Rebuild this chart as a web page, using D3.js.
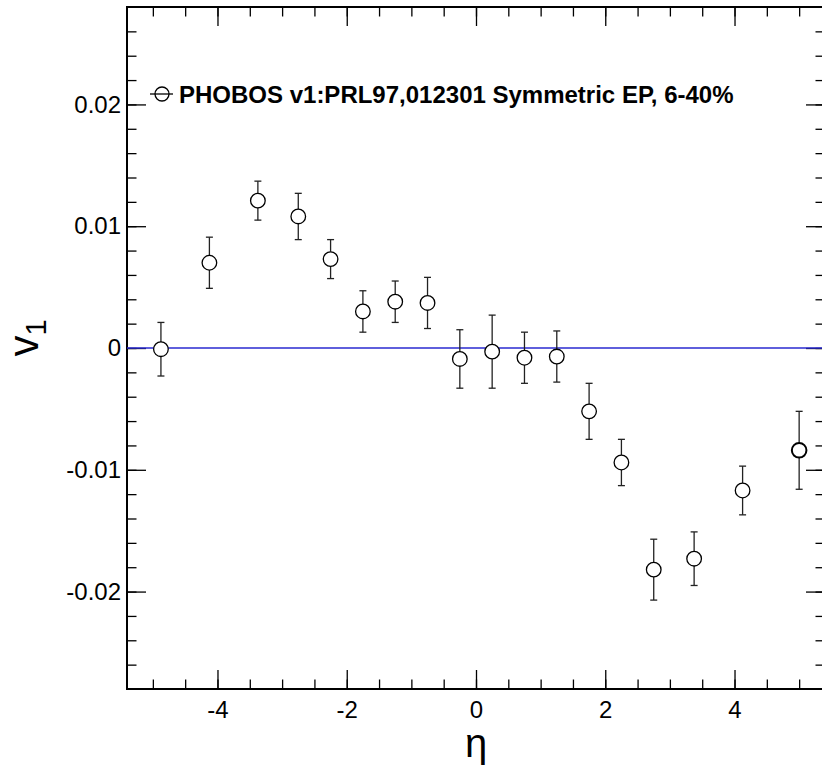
<!DOCTYPE html>
<html>
<head>
<meta charset="utf-8">
<script src="https://cdn.jsdelivr.net/npm/d3@7"></script>
<style>
  body { margin: 0; background: #fff; }
  svg { display: block; font-family: "Liberation Sans", Arial, Helvetica, sans-serif; }
</style>
</head>
<body>
<svg id="chart" width="822" height="772"></svg>
<script>
// PHOBOS v1 vs eta
const eta = [-4.875, -4.125, -3.375, -2.75, -2.25, -1.75, -1.25, -0.75, -0.25,
             0.25, 0.75, 1.25, 1.75, 2.25, 2.75, 3.375, 4.125, 5.0];
const v1 = [-0.0001, 0.0070, 0.0121, 0.0108, 0.0073, 0.0030, 0.0038, 0.0037, -0.0009,
            -0.0003, -0.0008, -0.0007, -0.0052, -0.0094, -0.0182, -0.0173, -0.0117, -0.0084];
const v1Err = [0.0022, 0.0021, 0.0016, 0.0019, 0.0016, 0.0017, 0.0017, 0.0021, 0.0024,
               0.0030, 0.0021, 0.0021, 0.0023, 0.0019, 0.0025, 0.0022, 0.0020, 0.0032];

const xMajor = [-4, -2, 0, 2, 4];
const xTickLabels = ["-4", "-2", "0", "2", "4"];
const xMinor = d3.range(-5, 5.01, 0.5);
const yMajor = [-0.02, -0.01, 0, 0.01, 0.02];
const yTickLabels = ["-0.02", "-0.01", "0", "0.01", "0.02"];
const yMinor = d3.range(-0.026, 0.0261, 0.002);
const legendText = "PHOBOS v1:PRL97,012301 Symmetric EP, 6-40%";

const data = eta.map((e, i) => ({ x: e, y: v1[i], err: v1Err[i] }));

const svg = d3.select("#chart");

// plot frame in pixels
const frameL = 127, frameR = 825, frameT = 7, frameB = 689;

const x = d3.scaleLinear().domain([-5.4, 5.4]).range([frameL, frameR]);
const y = d3.scaleLinear().domain([-0.028, 0.028]).range([frameB, frameT]);

const majorLen = 19, minorLen = 9.5;

// ---- axes ----
function styleAxis(sel) {
    sel.select(".domain").remove();
    sel.selectAll(".tick line").attr("stroke", "#000").attr("stroke-width", 1.3);
    sel.selectAll(".tick text")
        .attr("fill", "#000")
        .style("font-size", "24px")
        .style("font-family", "Liberation Sans, Arial, sans-serif");
}

// bottom
svg.append("g").attr("transform", `translate(0,${frameB})`)
    .call(d3.axisBottom(x).tickValues(xMinor).tickSize(-minorLen).tickFormat(""))
    .call(styleAxis);
svg.append("g").attr("transform", `translate(0,${frameB})`)
    .call(d3.axisBottom(x).tickValues(xMajor).tickSize(-majorLen).tickPadding(12)
        .tickFormat((d, i) => xTickLabels[i]))
    .call(styleAxis);

// top
svg.append("g").attr("transform", `translate(0,${frameT})`)
    .call(d3.axisTop(x).tickValues(xMinor).tickSize(-minorLen).tickFormat(""))
    .call(styleAxis);
svg.append("g").attr("transform", `translate(0,${frameT})`)
    .call(d3.axisTop(x).tickValues(xMajor).tickSize(-majorLen).tickFormat(""))
    .call(styleAxis);

// left
svg.append("g").attr("transform", `translate(${frameL},0)`)
    .call(d3.axisLeft(y).tickValues(yMinor).tickSize(-minorLen).tickFormat(""))
    .call(styleAxis);
svg.append("g").attr("transform", `translate(${frameL},0)`)
    .call(d3.axisLeft(y).tickValues(yMajor).tickSize(-majorLen).tickPadding(6)
        .tickFormat((d, i) => yTickLabels[i]))
    .call(styleAxis);

// right
svg.append("g").attr("transform", `translate(${frameR},0)`)
    .call(d3.axisRight(y).tickValues(yMinor).tickSize(-minorLen).tickFormat(""))
    .call(styleAxis);
svg.append("g").attr("transform", `translate(${frameR},0)`)
    .call(d3.axisRight(y).tickValues(yMajor).tickSize(-majorLen).tickFormat(""))
    .call(styleAxis);

// frame
svg.append("rect")
    .attr("x", frameL).attr("y", frameT)
    .attr("width", frameR - frameL).attr("height", frameB - frameT)
    .attr("fill", "none").attr("stroke", "#000").attr("stroke-width", 2);

// zero line
svg.append("line")
    .attr("x1", frameL).attr("x2", frameR)
    .attr("y1", y(0)).attr("y2", y(0))
    .attr("stroke", "#2a2ad0").attr("stroke-width", 1.4);

// ---- error bars + markers ----
const capW = 3.5, r = 7.3;
const pts = svg.append("g");

pts.selectAll(".bar-up").data(data).enter().append("line")
    .attr("x1", d => x(d.x)).attr("x2", d => x(d.x))
    .attr("y1", d => y(d.y + d.err)).attr("y2", d => y(d.y) - r)
    .attr("stroke", "#222").attr("stroke-width", 1.3);
pts.selectAll(".bar-dn").data(data).enter().append("line")
    .attr("x1", d => x(d.x)).attr("x2", d => x(d.x))
    .attr("y1", d => y(d.y) + r).attr("y2", d => y(d.y - d.err))
    .attr("stroke", "#222").attr("stroke-width", 1.3);
pts.selectAll(".cap-up").data(data).enter().append("line")
    .attr("x1", d => x(d.x) - capW).attr("x2", d => x(d.x) + capW)
    .attr("y1", d => y(d.y + d.err)).attr("y2", d => y(d.y + d.err))
    .attr("stroke", "#222").attr("stroke-width", 1.3);
pts.selectAll(".cap-dn").data(data).enter().append("line")
    .attr("x1", d => x(d.x) - capW).attr("x2", d => x(d.x) + capW)
    .attr("y1", d => y(d.y - d.err)).attr("y2", d => y(d.y - d.err))
    .attr("stroke", "#222").attr("stroke-width", 1.3);

pts.selectAll("circle").data(data).enter().append("circle")
    .attr("cx", d => x(d.x)).attr("cy", d => y(d.y))
    .attr("r", r)
    .attr("fill", "#fff").attr("stroke", "#000")
    .attr("stroke-width", (d, i) => i === data.length - 1 ? 2 : 1.3);

// ---- legend ----
const lg = svg.append("g").attr("transform", "translate(150,94)");
lg.append("line").attr("x1", 0).attr("x2", 23).attr("y1", 0).attr("y2", 0)
    .attr("stroke", "#000").attr("stroke-width", 1.3);
lg.append("circle").attr("cx", 12).attr("cy", 0).attr("r", 7)
    .attr("fill", "#fff").attr("stroke", "#000").attr("stroke-width", 1.3);
lg.append("line").attr("x1", 5).attr("x2", 19).attr("y1", 0).attr("y2", 0)
    .attr("stroke", "#000").attr("stroke-width", 1.3);
lg.append("text").attr("x", 29).attr("y", 8.5)
    .style("font-size", "24px").style("font-weight", "bold")
    .text(legendText);

// ---- axis titles ----
svg.append("text")
    .attr("x", x(0)).attr("y", 757)
    .attr("text-anchor", "middle")
    .style("font-size", "40px")
    .text("η");

const yt = svg.append("text")
    .attr("transform", "translate(38,338) rotate(-90)")
    .attr("text-anchor", "middle")
    .style("font-size", "42px");
yt.append("tspan").text("v");
yt.append("tspan").attr("dy", 8).style("font-size", "29px").text("1");
</script>
</body>
</html>
